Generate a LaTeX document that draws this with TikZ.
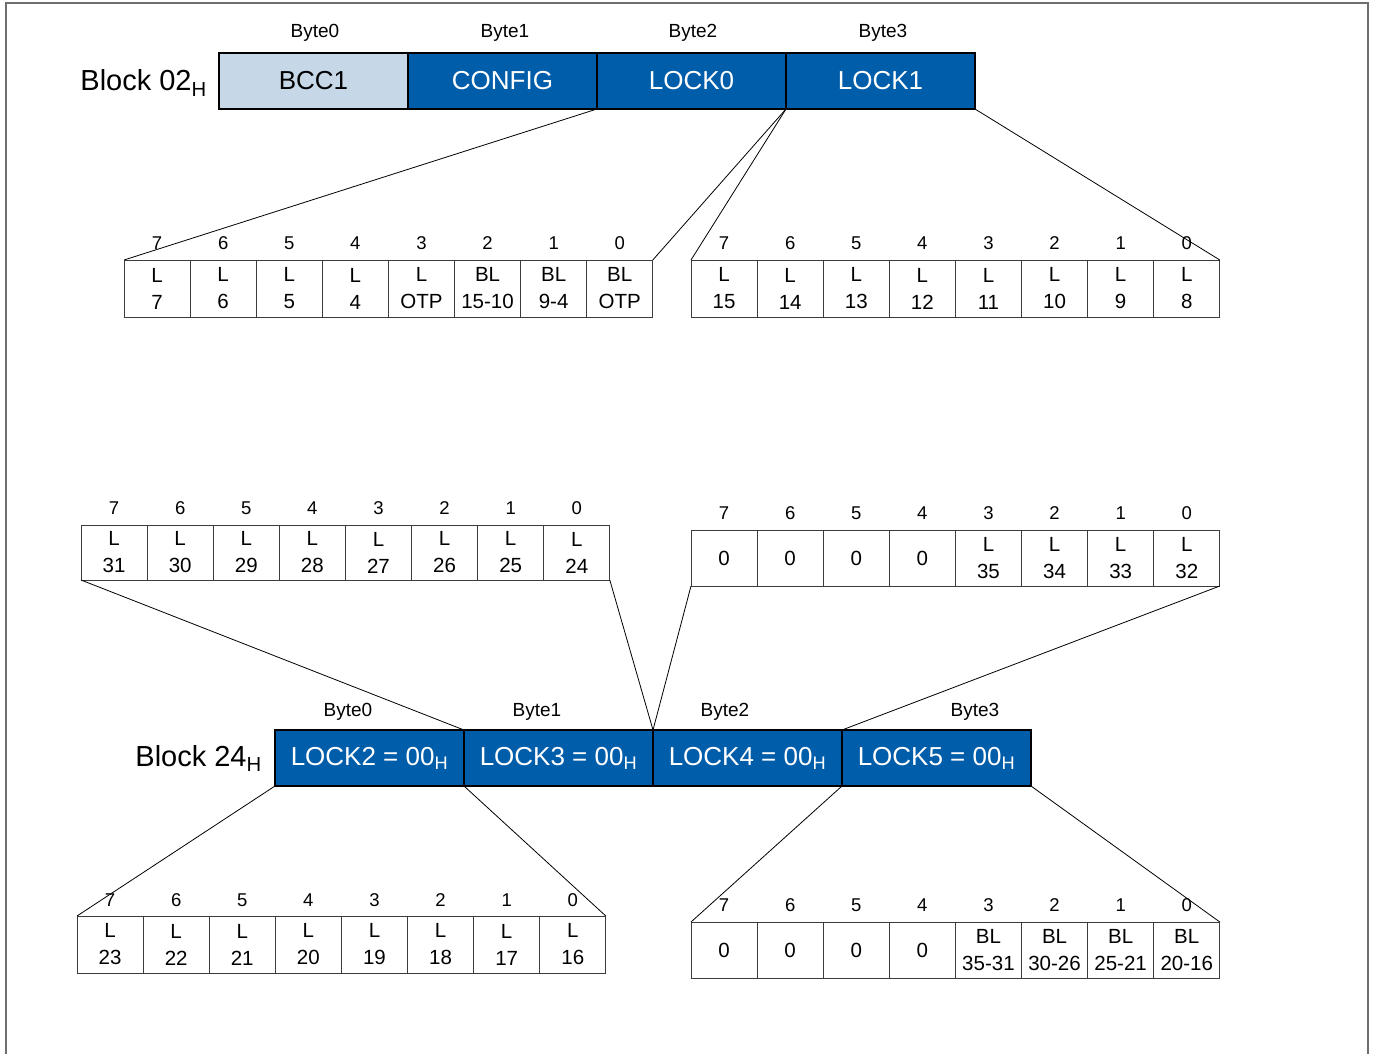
\documentclass[tikz,border=0pt]{standalone}
\usepackage{fontspec}
\setmainfont{Liberation Sans}
\definecolor{blkblue}{RGB}{0,93,170}
\definecolor{bccblue}{RGB}{198,215,232}
\definecolor{framegray}{RGB}{110,110,110}
\definecolor{cellgray}{RGB}{60,60,60}
\newcommand\mybitrow[6]{%
  \foreach \t [count=\i from 0] in {#6} {
    \node[cellbox, minimum height=#4] (#1\i) at ({#2+\i*66.1},#3) {\t};
    \node[bitnum] (#1n\i) at ({#2+\i*66.1+33.05},#5) {\pgfmathparse{int(7-\i)}\pgfmathresult};
  }}
\begin{document}
\begin{tikzpicture}[x=1pt,y=-1pt,
  blk/.style={draw=black, line width=2.5pt, fill=blkblue, text=white, anchor=north west,
    minimum width=189pt, minimum height=56pt, inner sep=0pt, outer sep=0pt,
    font=\fontsize{26}{26}\selectfont},
  bcc/.style={blk, fill=bccblue, text=black},
  cellbox/.style={draw=cellgray, line width=0.9pt, anchor=north west, minimum width=66.1pt,
    inner sep=0pt, outer sep=0pt, align=center, font=\fontsize{20.5}{27}\selectfont},
  bitnum/.style={inner sep=0pt, font=\fontsize{18.5}{18.5}\selectfont},
  bytelbl/.style={inner sep=0pt, font=\fontsize{19}{19}\selectfont},
  blklbl/.style={inner sep=0pt, anchor=base east, font=\fontsize{29}{29}\selectfont},
  fan/.style={draw=black, line width=0.8pt},
  frameline/.style={draw=framegray, line width=1.5pt}]
\useasboundingbox (0,0) rectangle (1373,1054);
\draw[frameline] (6,1054) -- (6,3) -- (1368,3) -- (1368,1054);

% Block 02
\node[blklbl] (lbl02) at (207,91) {Block 02\textsubscript{H}};
\node[bcc] (bcc) at (219,53) {BCC1};
\node[blk] (cfg) at (408,53) {CONFIG};
\node[blk] (lk0) at (597,53) {LOCK0};
\node[blk] (lk1) at (786,53) {LOCK1};
\node[bytelbl] (b02b0) at (315,33) {Byte0};
\node[bytelbl] (b02b1) at (505,33) {Byte1};
\node[bytelbl] (b02b2) at (693,33) {Byte2};
\node[bytelbl] (b02b3) at (883,33) {Byte3};

% Block 24
\node[blklbl] (lbl24) at (262,766) {Block 24\textsubscript{H}};
\node[blk] (l2) at (275,730) {LOCK2 = 00\textsubscript{H}};
\node[blk] (l3) at (464,730) {LOCK3 = 00\textsubscript{H}};
\node[blk] (l4) at (653,730) {LOCK4 = 00\textsubscript{H}};
\node[blk] (l5) at (842,730) {LOCK5 = 00\textsubscript{H}};
\node[bytelbl] (b24b0) at (348,712) {Byte0};
\node[bytelbl] (b24b1) at (537,712) {Byte1};
\node[bytelbl] (b24b2) at (725,712) {Byte2};
\node[bytelbl] (b24b3) at (975,712) {Byte3};

% bit rows
\mybitrow{A}{124}{260}{57pt}{243}{L\\7,L\\6,L\\5,L\\4,L\\OTP,BL\\15-10,BL\\9-4,BL\\OTP}
\mybitrow{B}{691}{260}{57pt}{243}{L\\15,L\\14,L\\13,L\\12,L\\11,L\\10,L\\9,L\\8}
\mybitrow{C}{81}{525}{55pt}{508}{L\\31,L\\30,L\\29,L\\28,L\\27,L\\26,L\\25,L\\24}
\mybitrow{D}{691}{530}{56pt}{513}{0,0,0,0,L\\35,L\\34,L\\33,L\\32}
\mybitrow{E}{77}{916}{57pt}{900}{L\\23,L\\22,L\\21,L\\20,L\\19,L\\18,L\\17,L\\16}
\mybitrow{F}{691}{922}{56pt}{905}{0,0,0,0,BL\\35-31,BL\\30-26,BL\\25-21,BL\\20-16}

% fan lines
\draw[fan] (lk0.south west) -- (A0.north west);
\draw[fan] (lk0.south east) -- (A7.north east);
\draw[fan] (lk1.south west) -- (B0.north west);
\draw[fan] (lk1.south east) -- (B7.north east);
\draw[fan] (C0.south west) -- (l3.north west);
\draw[fan] (C7.south east) -- (l3.north east);
\draw[fan] (D0.south west) -- (l4.north west);
\draw[fan] (D7.south east) -- (l4.north east);
\draw[fan] (l2.south west) -- (E0.north west);
\draw[fan] (l2.south east) -- (E7.north east);
\draw[fan] (l5.south west) -- (F0.north west);
\draw[fan] (l5.south east) -- (F7.north east);
\end{tikzpicture}
\end{document}
